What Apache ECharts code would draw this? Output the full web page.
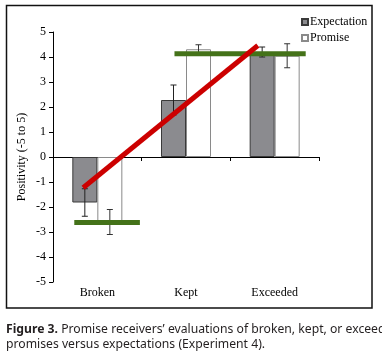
<!DOCTYPE html>
<html>
<head>
<meta charset="utf-8">
<script src="https://cdn.jsdelivr.net/npm/echarts@6/dist/echarts.min.js"></script>
<style>
  html, body { margin: 0; padding: 0; background: #fff; }
  #main-chart { width: 382px; height: 353px; }
</style>
</head>
<body>
<div id="main-chart"></div>
<script>
// Figure 3 - promise receivers' evaluations vs expectations

var categories = ['Broken', 'Kept', 'Exceeded'];
var expectation = [-1.82, 2.28, 4.2];
var expectationErr = [0.55, 0.6, 0.2];
var promise = [-2.6, 4.31, 4.05];
var promiseErr = [0.5, 0.18, 0.48];

// hand-drawn overlay lines (x in category units, 0..3)
var redLine = [[0.34, -1.23], [2.31, 4.46]];
var greenBroken = [[0.24, -2.62], [0.98, -2.62]];
var greenKept = [[1.37, 4.13], [2.85, 4.13]];

var serif = '"Liberation Serif", "Times New Roman", serif';
var barW = 25;

function errData(means, errs) {
    return means.map(function (m, i) { return [i, m - errs[i], m + errs[i]]; });
}

function errRender(offset, color) {
    return function (params, api) {
        var lo = api.coord([api.value(0), api.value(1)]);
        var hi = api.coord([api.value(0), api.value(2)]);
        var x = lo[0] + offset;
        var style = { stroke: color, lineWidth: 1 };
        return {
            type: 'group',
            children: [
                { type: 'line', shape: { x1: x, y1: lo[1], x2: x, y2: hi[1] }, style: style },
                { type: 'line', shape: { x1: x - 3, y1: lo[1], x2: x + 3, y2: lo[1] }, style: style },
                { type: 'line', shape: { x1: x - 3, y1: hi[1], x2: x + 3, y2: hi[1] }, style: style }
            ]
        };
    };
}

var myChart = echarts.init(document.getElementById('main-chart'));

var option = {
    animation: false,
    grid: { left: 53, right: 63, top: 32, bottom: 71 },
    legend: {
        orient: 'vertical',
        left: 296,
        top: 11,
        itemWidth: 6,
        itemHeight: 6,
        itemGap: 4,
        icon: 'rect',
        textStyle: { fontFamily: serif, fontSize: 12, color: '#000', padding: [0, 0, 0, -3] },
        data: ['Expectation', 'Promise']
    },
    xAxis: [{
        type: 'category',
        data: categories,
        axisLine: { onZero: true, lineStyle: { color: '#000', width: 1 } },
        axisTick: { show: true, length: 4, lineStyle: { color: '#000' } },
        axisLabel: { show: false }
    }, {
        type: 'value',
        min: 0,
        max: 3,
        show: false
    }, {
        type: 'category',
        data: categories,
        position: 'bottom',
        axisLine: { show: false, onZero: false },
        axisTick: { show: false },
        axisLabel: { fontFamily: serif, fontSize: 12, color: '#000', margin: 5 }
    }],
    yAxis: {
        type: 'value',
        min: -5,
        max: 5,
        interval: 1,
        name: 'Positivity (-5 to 5)',
        nameLocation: 'middle',
        nameGap: 25,
        nameMoveOverlap: false,
        nameTextStyle: { fontFamily: serif, fontSize: 12, color: '#000' },
        axisLine: { show: true, lineStyle: { color: '#000', width: 1 } },
        axisTick: { show: true, length: 4, lineStyle: { color: '#000' } },
        axisLabel: { fontFamily: serif, fontSize: 12, color: '#000', margin: 7 },
        splitLine: { show: false }
    },
    series: [{
        name: 'Expectation',
        type: 'bar',
        data: expectation,
        barWidth: barW,
        barGap: '0%',
        itemStyle: { color: '#8b8b8f', borderColor: '#3a3a3a', borderWidth: 1 }
    }, {
        name: 'Promise',
        type: 'bar',
        data: promise,
        barWidth: barW,
        itemStyle: { color: '#fff', borderColor: '#8a8a8a', borderWidth: 1 }
    }, {
        type: 'custom',
        data: errData(expectation, expectationErr),
        renderItem: errRender(-barW / 2, '#222'),
        z: 3
    }, {
        type: 'custom',
        data: errData(promise, promiseErr),
        renderItem: errRender(barW / 2, '#333'),
        z: 3
    }, {
        type: 'line',
        xAxisIndex: 1,
        data: greenBroken,
        symbol: 'none',
        lineStyle: { color: '#447219', width: 5, cap: 'butt' },
        z: 4
    }, {
        type: 'line',
        xAxisIndex: 1,
        data: greenKept,
        symbol: 'none',
        lineStyle: { color: '#447219', width: 5, cap: 'butt' },
        z: 4
    }, {
        type: 'line',
        xAxisIndex: 1,
        data: redLine,
        symbol: 'none',
        lineStyle: { color: '#cc0000', width: 5, cap: 'butt' },
        z: 5
    }],
    graphic: [{
        type: 'rect',
        shape: { x: 6.5, y: 5.5, width: 365.5, height: 302.5 },
        style: { fill: 'none', stroke: '#111', lineWidth: 1.5 }
    }, {
        type: 'text',
        left: 6,
        top: 322,
        style: {
            text: '{b|Figure 3.} Promise receivers\u2019 evaluations of broken, kept, or exceeded\npromises versus expectations (Experiment 4).',
            font: '12.2px "Noto Sans", sans-serif',
            fill: '#231f20',
            lineHeight: 15,
            rich: {
                b: { fontWeight: 'bold', fontSize: 12.2, fontFamily: '"Noto Sans", sans-serif', fill: '#231f20', lineHeight: 15 }
            }
        }
    }]
};

myChart.setOption(option);
</script>
</body>
</html>
